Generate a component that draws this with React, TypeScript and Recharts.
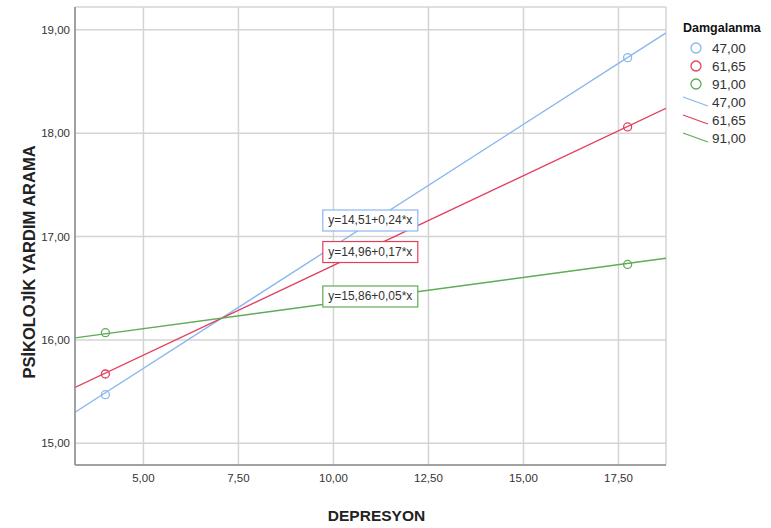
import React from "react";
import {
  ComposedChart,
  Line,
  Scatter,
  XAxis,
  YAxis,
  CartesianGrid,
  ReferenceDot,
} from "recharts";

const groups = ["47,00", "61,65", "91,00"];
const colors = ["#89b7ef", "#e1405d", "#5fab56"];

// observed group means (circles)
const pointX = [4.0, 17.74];
const obs47 = [15.47, 18.73];
const obs61 = [15.67, 18.06];
const obs91 = [16.07, 16.73];

// fit lines, read at the plot edges
const lineX = [3.2, 18.75];
const fit47 = [15.3, 18.97];
const fit61 = [15.54, 18.24];
const fit91 = [16.02, 16.79];

const equations = ["y=14,51+0,24*x", "y=14,96+0,17*x", "y=15,86+0,05*x"];
const eqX = 10.97;
const eqY = [17.155, 16.85, 16.42];

const xTicks = [5, 7.5, 10, 12.5, 15, 17.5];
const yTicks = [15, 16, 17, 18, 19];

const FONT = "'Liberation Sans', Arial, sans-serif";
const fmt = (v: number) => v.toFixed(2).replace(".", ",");

const toPts = (xs: number[], ys: number[]) => xs.map((x, i) => ({ x, y: ys[i] }));

const obsSeries = [obs47, obs61, obs91].map((ys) => toPts(pointX, ys));
const fitSeries = [fit47, fit61, fit91].map((ys) => toPts(lineX, ys));

const EqBox = (text: string, color: string) => (props: any) => {
  const { cx, cy } = props;
  const w = 95;
  const h = 21;
  return (
    <g>
      <rect x={cx - w / 2} y={cy - h / 2} width={w} height={h} fill="#fff" stroke={color} strokeWidth={1.2} />
      <text x={cx} y={cy + 4} textAnchor="middle" fontSize={12} fontFamily={FONT} fill="#333">
        {text}
      </text>
    </g>
  );
};

function LegendBox() {
  return (
    <svg width={100} height={150} style={{ position: "absolute", left: 675, top: 15 }}>
      <text x={8} y={17} fontSize={12.5} fontWeight="bold" fontFamily={FONT} fill="#111">
        Damgalanma
      </text>
      {groups.map((g, i) => (
        <g key={"c" + i}>
          <circle cx={21} cy={33 + i * 18} r={5} fill="none" stroke={colors[i]} strokeWidth={1.3} />
          <text x={37} y={38 + i * 18} fontSize={13.5} fontFamily={FONT} fill="#333">
            {g}
          </text>
        </g>
      ))}
      {groups.map((g, i) => (
        <g key={"l" + i}>
          <line x1={8} y1={82 + i * 18} x2={33} y2={91 + i * 18} stroke={colors[i]} strokeWidth={1.3} />
          <text x={37} y={92 + i * 18} fontSize={13.5} fontFamily={FONT} fill="#333">
            {g}
          </text>
        </g>
      ))}
    </svg>
  );
}

export default function App() {
  return (
    <div style={{ position: "absolute", left: 0, top: 0, width: 771, height: 528, background: "#fff" }}>
      <ComposedChart width={771} height={528} margin={{ top: 7, right: 105, left: 0, bottom: 0 }}>
        <CartesianGrid stroke="#d4d4d4" strokeWidth={1.5} />
        <XAxis
          type="number"
          dataKey="x"
          domain={[3.2, 18.75]}
          ticks={xTicks}
          tickFormatter={fmt}
          allowDataOverflow
          height={63}
          tickSize={0}
          tickMargin={9}
          stroke="#8c8c8c"
          strokeWidth={1.5}
          tick={{ fontSize: 11.5, fill: "#333", fontFamily: FONT }}
          label={{
            value: "DEPRESYON",
            position: "center",
            dx: 6,
            dy: 19,
            style: { fontSize: 15.5, fontWeight: "bold", fill: "#222", fontFamily: FONT },
          }}
        />
        <YAxis
          type="number"
          dataKey="y"
          domain={[14.79, 19.22]}
          ticks={yTicks}
          tickFormatter={fmt}
          allowDataOverflow
          width={75}
          tickSize={0}
          tickMargin={5}
          stroke="#8c8c8c"
          strokeWidth={1.5}
          tick={{ fontSize: 11.5, fill: "#333", fontFamily: FONT }}
          label={{
            value: "PSİKOLOJİK YARDIM ARAMA",
            angle: -90,
            position: "center",
            dx: -8,
            dy: 26,
            style: { fontSize: 16.5, fontWeight: "bold", fill: "#222", fontFamily: FONT, textAnchor: "middle" },
          }}
        />
        {fitSeries.map((d, i) => (
          <Line
            key={"fit" + i}
            data={d}
            dataKey="y"
            type="linear"
            stroke={colors[i]}
            strokeWidth={1.4}
            dot={false}
            activeDot={false}
            isAnimationActive={false}
          />
        ))}
        {obsSeries.map((d, i) => (
          <Scatter
            key={"obs" + i}
            data={d}
            dataKey="y"
            fill="none"
            stroke={colors[i]}
            strokeWidth={1.3}
            shape={(p: any) => <circle cx={p.cx} cy={p.cy} r={4} fill="none" stroke={colors[i]} strokeWidth={1.3} />}
            isAnimationActive={false}
          />
        ))}
        {equations.map((eq, i) => (
          <ReferenceDot key={"eq" + i} x={eqX} y={eqY[i]} shape={EqBox(eq, colors[i])} />
        ))}
      </ComposedChart>
      <LegendBox />
    </div>
  );
}
